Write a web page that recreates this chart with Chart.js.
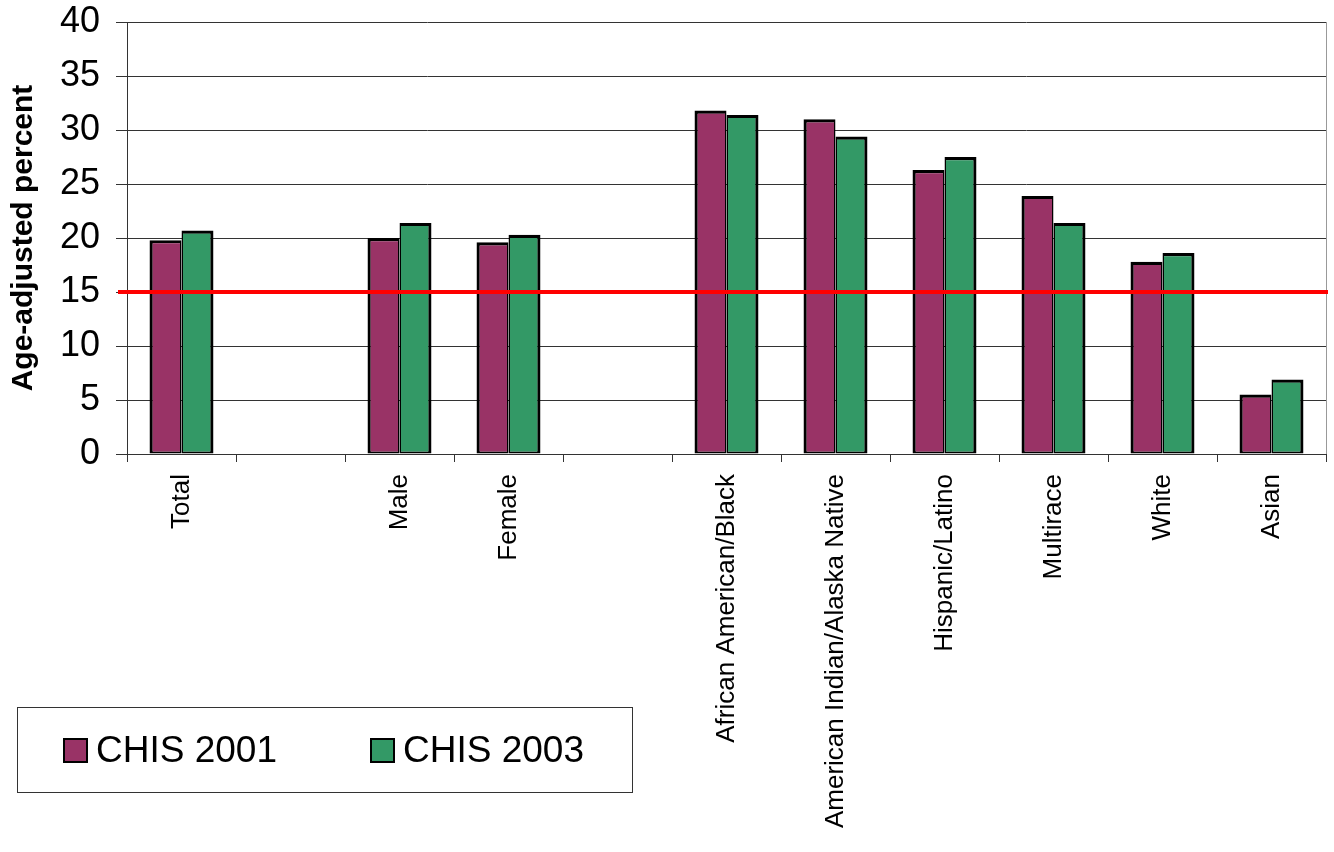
<!DOCTYPE html>
<html><head><meta charset="utf-8">
<script src="https://cdn.jsdelivr.net/npm/chart.js@4.4.1/dist/chart.umd.min.js"></script>
<style>
html,body{margin:0;padding:0;background:#fff;}
#wrap{position:relative;width:1334px;height:852px;}
#legend{position:absolute;left:17px;top:707px;width:614px;height:84px;border:1px solid #333;font-family:"Liberation Sans",Arial,sans-serif;font-size:37px;color:#000;}
.item{position:absolute;top:0;height:84px;display:flex;align-items:center;white-space:nowrap;}
.sw{width:21px;height:21px;border:2px solid #000;margin-right:8px;box-sizing:content-box;}
</style></head><body>
<div id="wrap"><canvas id="c" width="1334" height="852"></canvas><div id="legend"></div></div>
<script>
const categories = ["Total", "", "Male", "Female", "", "African American/Black", "American Indian/Alaska Native", "Hispanic/Latino", "Multirace", "White", "Asian"];
const chis2001 = [19.8, null, 20.0, 19.6, null, 31.8, 31.0, 26.3, 23.9, 17.8, 5.5];
const chis2003 = [20.7, null, 21.4, 20.3, null, 31.4, 29.4, 27.5, 21.4, 18.6, 6.9];
const yTicks = [0, 5, 10, 15, 20, 25, 30, 35, 40];
const benchmark = [15];
const seriesNames = ["CHIS 2001", "CHIS 2003"];
const seriesColors = ["#993366", "#339966"];

Chart.defaults.font.family = '"Liberation Sans", Arial, sans-serif';
Chart.defaults.color = '#000';

const extras = {
  id: 'extras',
  afterDatasetsDraw(chart) {
    const {ctx, chartArea: a, scales: {y}} = chart;
    ctx.save();
    ctx.strokeStyle = '#999';
    ctx.lineWidth = 1;
    ctx.beginPath();
    ctx.moveTo(a.right + 0.5, a.top);
    ctx.lineTo(a.right + 0.5, a.bottom);
    ctx.stroke();
    benchmark.forEach(v => {
      const py = y.getPixelForValue(v);
      ctx.strokeStyle = '#ff0000';
      ctx.lineWidth = 4;
      ctx.beginPath();
      ctx.moveTo(a.left - 9, py);
      ctx.lineTo(a.right + 2, py);
      ctx.stroke();
    });
    ctx.restore();
  }
};

new Chart(document.getElementById('c'), {
  type: 'bar',
  data: {
    labels: categories,
    datasets: [
      {label: seriesNames[0], data: chis2001, backgroundColor: seriesColors[0], borderColor: '#000',
       borderWidth: {top: 3.2, left: 3.2, right: 1.5, bottom: 2}, borderSkipped: false},
      {label: seriesNames[1], data: chis2003, backgroundColor: seriesColors[1], borderColor: '#000',
       borderWidth: {top: 3.2, left: 1.5, right: 3.2, bottom: 2}, borderSkipped: false}
    ]
  },
  options: {
    responsive: false,
    devicePixelRatio: 1,
    animation: false,
    categoryPercentage: 0.587,
    barPercentage: 1.0,
    layout: {padding: {top: 0, right: 8, left: 0, bottom: 0}},
    plugins: {legend: {display: false}, tooltip: {enabled: false}},
    scales: {
      x: {
        offset: true,
        grid: {display: true, drawOnChartArea: false, drawTicks: true, tickLength: 8, color: '#333', offset: true},
        border: {display: true, color: '#333', width: 1},
        ticks: {autoSkip: false, maxRotation: 90, minRotation: 90, padding: 12, font: {size: 26}, color: '#000'},
        afterFit(s) { s.height = 852 - 454; }
      },
      y: {
        min: 0, max: 40,
        afterBuildTicks(s) { s.ticks = yTicks.map(v => ({value: v})); },
        ticks: {padding: 16, font: {size: 36}, color: '#000'},
        grid: {color: '#333', tickLength: 11, drawTicks: true},
        border: {color: '#333'},
        title: {display: true, text: 'Age-adjusted percent', font: {size: 30, weight: 'bold'}, color: '#000', padding: {top: 6, bottom: 0}},
        afterFit(s) { s.width = 127; s.paddingTop = 22; s.paddingBottom = 0; }
      }
    }
  },
  plugins: [extras]
});

const lg = document.getElementById('legend');
const lefts = [45, 352];
seriesNames.forEach((n, i) => {
  const it = document.createElement('div');
  it.className = 'item';
  it.style.left = lefts[i] + 'px';
  const sw = document.createElement('div');
  sw.className = 'sw';
  sw.style.background = seriesColors[i];
  const t = document.createElement('span');
  t.textContent = n;
  it.appendChild(sw);
  it.appendChild(t);
  lg.appendChild(it);
});
</script>
</body></html>
